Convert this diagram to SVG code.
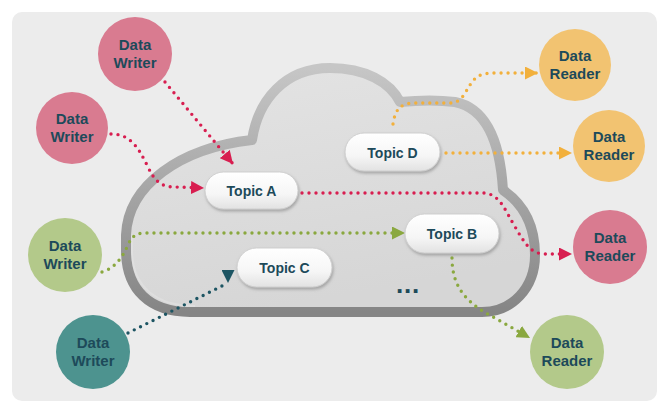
<svg xmlns="http://www.w3.org/2000/svg" width="659" height="405" viewBox="0 0 659 405">
<style>
.lbl{font-family:"Liberation Sans",Arial,sans-serif;font-weight:bold;font-size:15px;fill:#1d4a5a;text-anchor:middle}
.tlbl{font-family:"Liberation Sans",Arial,sans-serif;font-weight:bold;font-size:14px;fill:#1d4a5a;text-anchor:middle}
.pink{fill:#d97b90}
.orange{fill:#f2c371}
.green{fill:#b3c98a}
.teal{fill:#4d938f}
.dot{fill:none;stroke-width:3.4;stroke-linecap:round;stroke-dasharray:0 7}
.pill{fill:url(#pillg);stroke:#cfcfcf;stroke-width:1;filter:url(#sh)}
</style>
<defs>
<linearGradient id="pillg" x1="0" y1="0" x2="0" y2="1">
<stop offset="0" stop-color="#ffffff"/><stop offset="0.6" stop-color="#f6f6f6"/><stop offset="1" stop-color="#e2e2e2"/>
</linearGradient>
<linearGradient id="cloudf" x1="0" y1="0" x2="0.3" y2="1">
<stop offset="0" stop-color="#e4e4e4"/><stop offset="1" stop-color="#d6d6d6"/>
</linearGradient>
<linearGradient id="clouds" x1="0" y1="0" x2="0" y2="1">
<stop offset="0" stop-color="#c6c6c6"/><stop offset="0.5" stop-color="#a6a6a6"/><stop offset="1" stop-color="#858585"/>
</linearGradient>
<filter id="sh" x="-20%" y="-30%" width="140%" height="170%">
<feDropShadow dx="1" dy="2" stdDeviation="1.5" flood-color="#808080" flood-opacity="0.6"/>
</filter>
<marker id="aPink" markerUnits="userSpaceOnUse" markerWidth="13" markerHeight="13" refX="13" refY="6.5" orient="auto"><path d="M0,0 L13,6.5 L0,13 z" fill="#d81e50"/></marker>
<marker id="aOrange" markerUnits="userSpaceOnUse" markerWidth="13" markerHeight="13" refX="13" refY="6.5" orient="auto"><path d="M0,0 L13,6.5 L0,13 z" fill="#f2b03c"/></marker>
<marker id="aGreen" markerUnits="userSpaceOnUse" markerWidth="13" markerHeight="13" refX="13" refY="6.5" orient="auto"><path d="M0,0 L13,6.5 L0,13 z" fill="#8aa83f"/></marker>
<marker id="aTeal" markerUnits="userSpaceOnUse" markerWidth="13" markerHeight="13" refX="13" refY="6.5" orient="90"><path d="M0,0 L13,6.5 L0,13 z" fill="#1d5563"/></marker>
</defs>
<rect x="0" y="0" width="659" height="405" fill="#ffffff"/>
<rect x="12" y="12" width="645" height="389" rx="10" fill="#ececec"/>

<g id="cloud">
<path d="M190,312 C150,312 126,290 126,250 L126,235 C128,185 180,148 252,140 C258,100 285,68 330,68 C365,68 390,82 400,102 C420,100 440,100 455,102 C485,108 500,140 503,190 C525,205 535,228 535,255 C535,288 512,312 482,312 Z" fill="url(#cloudf)" stroke="url(#clouds)" stroke-width="10" stroke-linejoin="round"/>
<path d="M195,306 C158,306 132,288 132,250 L132,236" fill="none" stroke="#ececec" stroke-opacity="0.35" stroke-width="2"/>
</g>

<g id="connectors">
<path class="dot" stroke="#d81e50" d="M165,82 L233,164" marker-end="url(#aPink)"/>
<path class="dot" stroke="#d81e50" d="M111,134 C130,134 138,147 147,165 C154,180 160,187 175,187 L204,188" marker-end="url(#aPink)"/>
<path class="dot" stroke="#d81e50" d="M302,193 L485,193 C500,195 505,210 514,225 C524,242 530,254 545,254 L572,254" marker-end="url(#aPink)"/>
<path class="dot" stroke="#8aa83f" d="M102,272 C115,268 122,258 128,245 C132,236 136,233 146,233 L405,233" marker-end="url(#aGreen)"/>
<path class="dot" stroke="#8aa83f" d="M452,258 C452,290 470,305 495,318 L530,338" marker-end="url(#aGreen)"/>
<path class="dot" stroke="#1d5563" d="M128,333 L228,283" marker-end="url(#aTeal)"/>
<path class="dot" stroke="#f2b03c" d="M393,124 C395,110 400,103 415,103 L450,103 C462,103 465,92 470,85 C475,77 480,73 495,73 L538,73" marker-end="url(#aOrange)"/>
<path class="dot" stroke="#f2b03c" d="M446,153 L572,153" marker-end="url(#aOrange)"/>
</g>

<g id="topicA"><rect class="pill" x="205" y="172" width="93" height="37" rx="18.5"/><text class="tlbl" x="251.5" y="196">Topic A</text></g>
<g id="topicD"><rect class="pill" x="345" y="133" width="95" height="38" rx="19"/><text class="tlbl" x="392.5" y="158">Topic D</text></g>
<g id="topicB"><rect class="pill" x="405" y="214" width="94" height="39" rx="19.5"/><text class="tlbl" x="452" y="239">Topic B</text></g>
<g id="topicC"><rect class="pill" x="237" y="248" width="95" height="39" rx="19.5"/><text class="tlbl" x="284.5" y="273">Topic C</text></g>
<g id="ellipsis"><text x="408" y="293" font-family="Liberation Sans,Arial,sans-serif" font-weight="bold" font-size="26" fill="#1d4a5a" text-anchor="middle" letter-spacing="0.8">...</text></g>

<g id="writer1"><circle class="pink" cx="135" cy="54" r="37"/><text class="lbl" x="135" y="50">Data</text><text class="lbl" x="135" y="68">Writer</text></g>
<g id="writer2"><circle class="pink" cx="72" cy="128" r="36"/><text class="lbl" x="72" y="124">Data</text><text class="lbl" x="72" y="142">Writer</text></g>
<g id="writer3"><circle class="green" cx="65" cy="255" r="37"/><text class="lbl" x="65" y="251">Data</text><text class="lbl" x="65" y="269">Writer</text></g>
<g id="writer4"><circle class="teal" cx="93" cy="352" r="37"/><text class="lbl" x="93" y="348">Data</text><text class="lbl" x="93" y="366">Writer</text></g>
<g id="reader1"><circle class="orange" cx="575" cy="65" r="36"/><text class="lbl" x="575" y="61">Data</text><text class="lbl" x="575" y="79">Reader</text></g>
<g id="reader2"><circle class="orange" cx="609" cy="146" r="36"/><text class="lbl" x="609" y="142">Data</text><text class="lbl" x="609" y="160">Reader</text></g>
<g id="reader3"><circle class="pink" cx="610" cy="247" r="37"/><text class="lbl" x="610" y="243">Data</text><text class="lbl" x="610" y="261">Reader</text></g>
<g id="reader4"><circle class="green" cx="567" cy="352" r="37"/><text class="lbl" x="567" y="348">Data</text><text class="lbl" x="567" y="366">Reader</text></g>
</svg>
